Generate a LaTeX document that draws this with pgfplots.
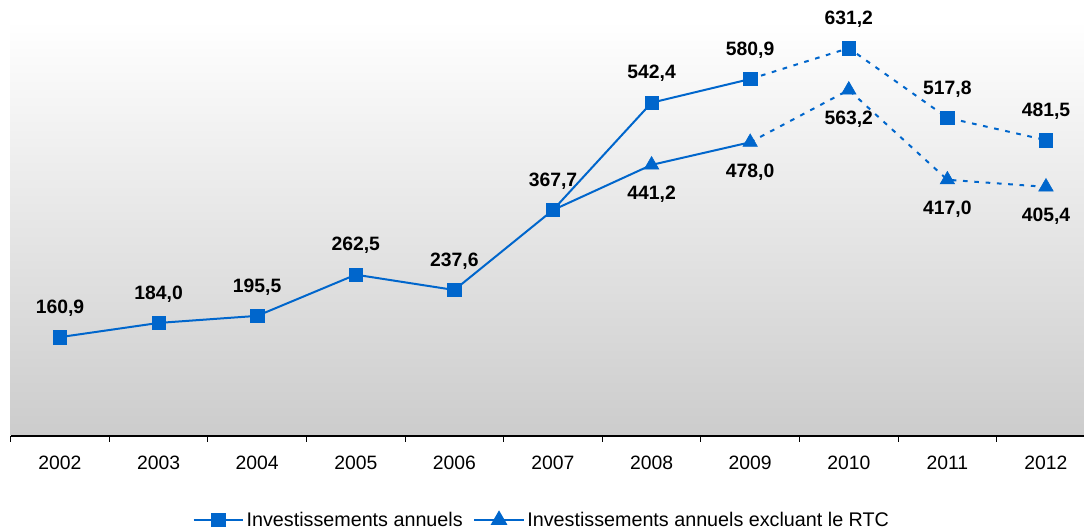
\documentclass[border=0pt]{standalone}
\usepackage{fontspec}
\setmainfont{Liberation Sans}
\usepackage{pgfplots}
\pgfplotsset{compat=1.18}
\definecolor{lb}{HTML}{0066CC}
\newcommand{\fs}{\fontsize{14.5pt}{17pt}\selectfont}
\newcommand{\fl}{\fontsize{14.8pt}{17pt}\selectfont}
\begin{document}
\begin{tikzpicture}
\useasboundingbox (-8pt,-71.25pt) rectangle (805pt,327pt);
\begin{axis}[
  at={(0,0)}, anchor=south west,
  scale only axis, width=813.45pt, height=312pt,
  xmin=-0.5, xmax=10.5, ymin=0, ymax=677,
  axis y line=none,
  axis x line*=bottom,
  x axis line style={-, black, line width=0.8pt},
  xtick={0,...,10},
  xticklabels={2002,2003,2004,2005,2006,2007,2008,2009,2010,2011,2012},
  major tick length=0pt,
  minor xtick={-0.5,0.5,...,10.5},
  minor tick length=4.5pt,
  tick align=outside,
  every minor tick/.style={black, line width=0.6pt},
  axis background/.style={top color=white, bottom color=black!20},
  xticklabel style={font=\fs, yshift=-11.75pt},
  legend style={at={(0.49,-0.202)}, anchor=center, draw=none, fill=none, font=\fl,
    legend columns=2, /tikz/every even column/.append style={column sep=6pt}},
  legend image code/.code={\draw[mark repeat=2,mark phase=2] plot coordinates {(0pt,0pt)(18.5pt,0pt)(37pt,0pt)};},
  /pgf/number format/assume math mode=true,
  /pgf/number format/use comma,
  /pgf/number format/fixed,
  /pgf/number format/fixed zerofill,
  /pgf/number format/precision=1,
  clip=false,
]
% dashed parts
\addplot[lb, line width=1.5pt, dash pattern=on 3.5pt off 5pt, forget plot] coordinates {(7,478.0)(8,563.2)(9,417.0)(10,405.4)};
\addplot[lb, line width=1.5pt, dash pattern=on 3.5pt off 5pt, forget plot] coordinates {(7,580.9)(8,631.2)(9,517.8)(10,481.5)};
% solid parts
\addplot[lb, line width=1.5pt, forget plot] coordinates {(5,367.7)(6,441.2)(7,478.0)};
\addplot[lb, line width=1.5pt, forget plot] coordinates {(0,160.9)(1,184.0)(2,195.5)(3,262.5)(4,237.6)(5,367.7)(6,542.4)(7,580.9)};
% markers + labels
\addplot[only marks, mark=triangle*, mark size=6.3pt, color=lb, forget plot,
  nodes near coords,
  every node near coord/.append style={anchor=north, yshift=-12.5pt, font=\fs\bfseries, text=black}]
  coordinates {(6,441.2)(7,478.0)(8,563.2)(9,417.0)(10,405.4)};
\addplot[only marks, mark=square*, mark size=5pt, color=lb, forget plot,
  nodes near coords,
  every node near coord/.append style={anchor=south, yshift=12pt, font=\fs\bfseries, text=black}]
  coordinates {(0,160.9)(1,184.0)(2,195.5)(3,262.5)(4,237.6)(5,367.7)(6,542.4)(7,580.9)(8,631.2)(9,517.8)(10,481.5)};
\addlegendimage{lb, line width=1.5pt, mark=square*, mark size=4.8pt, mark options={solid}}
\addlegendentry{Investissements annuels}
\addlegendimage{lb, line width=1.5pt, mark=triangle*, mark size=5.8pt, mark options={solid}}
\addlegendentry{Investissements annuels excluant le RTC}
\end{axis}
\end{tikzpicture}
\end{document}
